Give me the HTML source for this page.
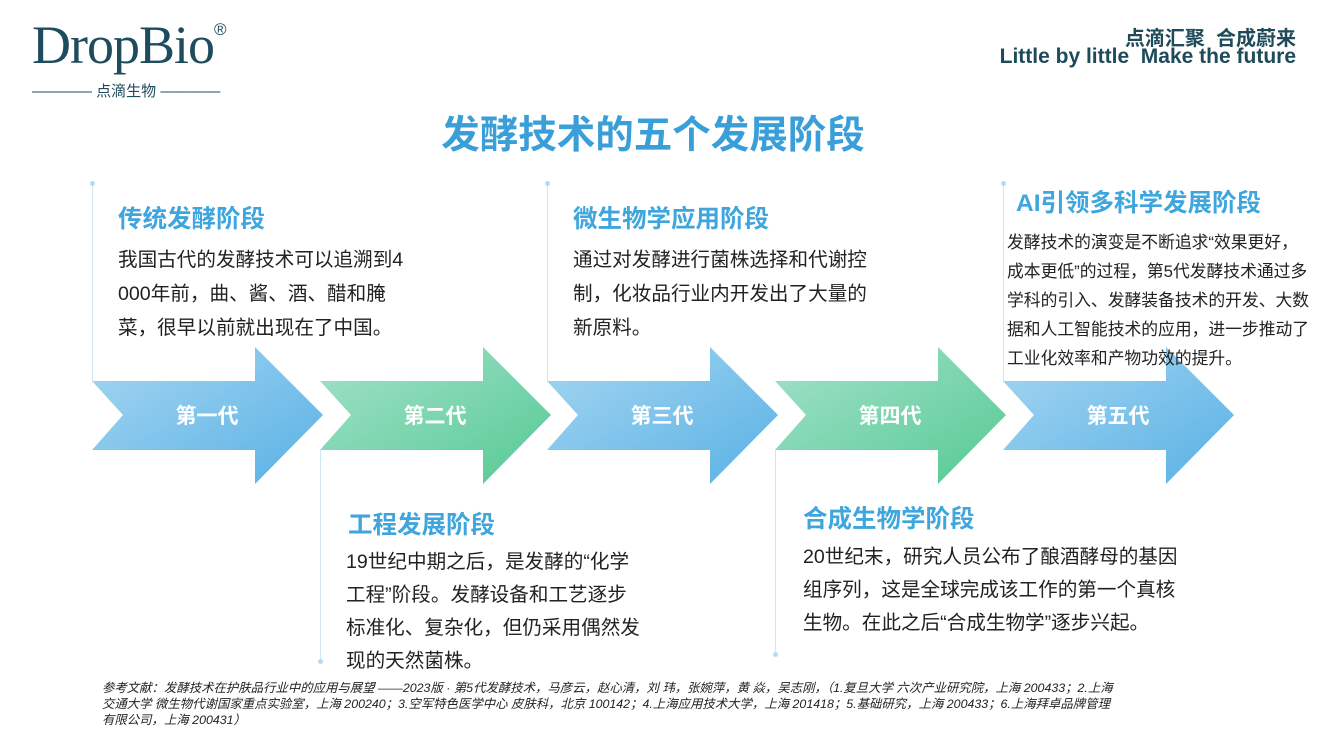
<!DOCTYPE html>
<html><head><meta charset="utf-8"><style>
body{margin:0;width:1333px;height:750px;background:#fff;position:relative;overflow:hidden;font-family:"Liberation Sans","Noto Sans CJK SC",sans-serif;}
.a{position:absolute;white-space:nowrap;}
.h{color:#3ea6dd;font-weight:bold;font-size:24.5px;}
.b{color:#222;font-size:19.6px;line-height:34px;}
.vl{position:absolute;width:1px;background:#cfe6f3;}
.dot{position:absolute;width:5px;height:5px;border-radius:50%;background:#b8dcef;}
</style></head><body>
<div class="a" style="left:32px;top:14px;font-family:'Liberation Serif',serif;font-size:54px;color:#1f4c5c;letter-spacing:-1px;">DropBio</div>
<div class="a" style="left:214px;top:20px;font-size:17px;color:#1f4c5c;">®</div>
<div class="a" style="left:32px;top:80px;font-size:15px;color:#1f4c5c;">———— 点滴生物 ————</div>
<div class="a" style="right:37px;top:22px;font-size:20px;font-weight:bold;color:#1e4a5a;">点滴汇聚&nbsp;&nbsp;合成蔚来</div>
<div class="a" style="right:37px;top:45px;font-size:21px;font-weight:bold;color:#1e4a5a;">Little by little&nbsp;&nbsp;Make the future</div>
<div class="a" style="left:0;width:1306px;text-align:center;top:104px;font-size:38.5px;font-weight:bold;color:#3a9fd8;">发酵技术的五个发展阶段</div>

<div class="vl" style="left:92px;top:183px;height:198px"></div><div class="dot" style="left:90px;top:181px"></div>
<div class="vl" style="left:547px;top:183px;height:198px"></div><div class="dot" style="left:545px;top:181px"></div>
<div class="vl" style="left:1003px;top:183px;height:198px"></div><div class="dot" style="left:1001px;top:181px"></div>
<div class="vl" style="left:320px;top:450px;height:212px"></div><div class="dot" style="left:318px;top:659px"></div>
<div class="vl" style="left:775px;top:450px;height:205px"></div><div class="dot" style="left:773px;top:652px"></div>

<svg class="a" style="left:0;top:0" width="1333" height="750">
<defs>
<linearGradient id="bl" x1="0" y1="0" x2="1" y2="1"><stop offset="0" stop-color="#a6d6f1"/><stop offset="1" stop-color="#58b1e5"/></linearGradient>
<linearGradient id="gr" x1="0" y1="0" x2="1" y2="1"><stop offset="0" stop-color="#a4e2cb"/><stop offset="1" stop-color="#55c993"/></linearGradient>
</defs>
<polygon points="92,381 255,381 255,347 323,415 255,484 255,450 92,450 123,415" fill="url(#bl)"/>
<polygon transform="translate(228,0)" points="92,381 255,381 255,347 323,415 255,484 255,450 92,450 123,415" fill="url(#gr)"/>
<polygon transform="translate(455,0)" points="92,381 255,381 255,347 323,415 255,484 255,450 92,450 123,415" fill="url(#bl)"/>
<polygon transform="translate(683,0)" points="92,381 255,381 255,347 323,415 255,484 255,450 92,450 123,415" fill="url(#gr)"/>
<polygon transform="translate(911,0)" points="92,381 255,381 255,347 323,415 255,484 255,450 92,450 123,415" fill="url(#bl)"/>
<g font-family="Liberation Sans,Noto Sans CJK SC,sans-serif" font-size="21" font-weight="bold" fill="#fff" text-anchor="middle">
<text x="207" y="423">第一代</text><text x="435" y="423">第二代</text><text x="662" y="423">第三代</text><text x="890" y="423">第四代</text><text x="1118" y="423">第五代</text>
</g></svg>

<div class="a h" style="left:118px;top:200px">传统发酵阶段</div>
<div class="a b" style="left:118px;top:243px">我国古代的发酵技术可以追溯到4<br>000年前，曲、酱、酒、醋和腌<br>菜，很早以前就出现在了中国。</div>
<div class="a h" style="left:573px;top:200px">微生物学应用阶段</div>
<div class="a b" style="left:573px;top:243px">通过对发酵进行菌株选择和代谢控<br>制，化妆品行业内开发出了大量的<br>新原料。</div>
<div class="a h" style="left:1016px;top:184px">AI引领多科学发展阶段</div>
<div class="a b" style="left:1007px;top:228px;font-size:16.8px;line-height:29px">发酵技术的演变是不断追求“效果更好，<br>成本更低”的过程，第5代发酵技术通过多<br>学科的引入、发酵装备技术的开发、大数<br>据和人工智能技术的应用，进一步推动了<br>工业化效率和产物功效的提升。</div>
<div class="a h" style="left:348px;top:506px">工程发展阶段</div>
<div class="a b" style="left:346px;top:546px;line-height:33px">19世纪中期之后，是发酵的“化学<br>工程”阶段。发酵设备和工艺逐步<br>标准化、复杂化，但仍采用偶然发<br>现的天然菌株。</div>
<div class="a h" style="left:803px;top:500px">合成生物学阶段</div>
<div class="a b" style="left:803px;top:541px;line-height:33px">20世纪末，研究人员公布了酿酒酵母的基因<br>组序列，这是全球完成该工作的第一个真核<br>生物。在此之后“合成生物学”逐步兴起。</div>

<div class="a" style="left:102px;top:680px;font-size:12.4px;line-height:16px;font-style:italic;color:#222;">参考文献：发酵技术在护肤品行业中的应用与展望 ——2023版 · 第5代发酵技术，马彦云，赵心清，刘 玮，张婉萍，黄 焱，吴志刚，（1.复旦大学 六次产业研究院，上海 200433；2.上海<br>交通大学 微生物代谢国家重点实验室，上海 200240；3.空军特色医学中心 皮肤科，北京 100142；4.上海应用技术大学，上海 201418；5.基础研究，上海 200433；6.上海拜卓品牌管理<br>有限公司，上海 200431）</div>
</body></html>
